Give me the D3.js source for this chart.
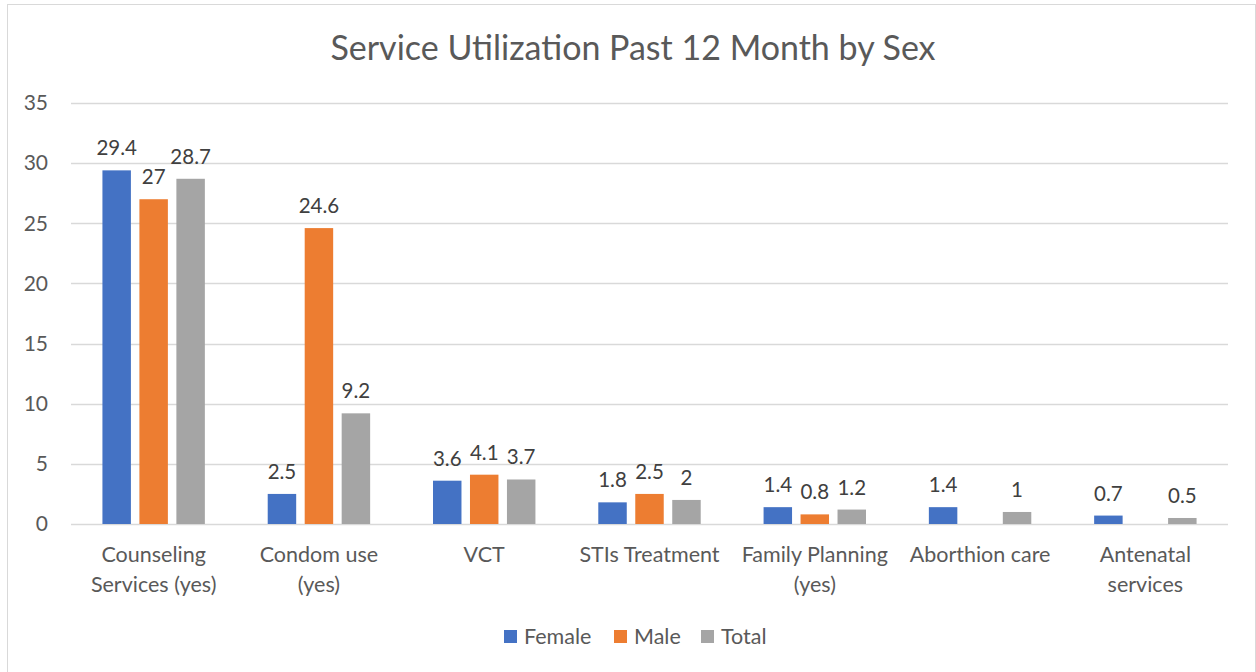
<!DOCTYPE html>
<html>
<head>
<meta charset="utf-8">
<script src="https://cdn.jsdelivr.net/npm/d3@7"></script>
<style>
  body { margin: 0; background: #fff; }
  svg { display: block; font-family: Lato, "Open Sans", sans-serif; }
</style>
</head>
<body>
<svg id="chart" width="1256" height="672"></svg>
<script>
const categories = [
  ['Counseling', 'Services (yes)'],
  ['Condom use', '(yes)'],
  ['VCT'],
  ['STIs Treatment'],
  ['Family Planning', '(yes)'],
  ['Aborthion care'],
  ['Antenatal', 'services']
];
const seriesNames = ['Female', 'Male', 'Total'];
const female = [29.4, 2.5, 3.6, 1.8, 1.4, 1.4, 0.7];
const male = [27, 24.6, 4.1, 2.5, 0.8, null, null];
const total = [28.7, 9.2, 3.7, 2, 1.2, 1, 0.5];
const yTicks = [0, 5, 10, 15, 20, 25, 30, 35];
const colors = ['#4472c4', '#ed7d31', '#a5a5a5'];

const series = [female, male, total];
const svg = d3.select('#chart');
const margin = { left: 71, right: 28, top: 103, bottom: 148 };
const W = 1256, H = 672;

// outer frame
svg.append('rect')
  .attr('x', 7.5).attr('y', 4.5)
  .attr('width', W - 8).attr('height', H)
  .attr('fill', '#fff').attr('stroke', '#d9d9d9');

svg.append('text')
  .attr('x', 633).attr('y', 60)
  .attr('text-anchor', 'middle')
  .attr('font-size', 34)
  .attr('fill', '#595959')
  .text('Service Utilization Past 12 Month by Sex');

const x = d3.scaleBand()
  .domain(d3.range(categories.length))
  .range([margin.left, W - margin.right])
  .paddingInner(0).paddingOuter(0);

const y = d3.scaleLinear().domain([0, 35]).range([H - margin.bottom, margin.top]);

const xInner = d3.scaleBand()
  .domain(d3.range(seriesNames.length))
  .range([0, x.bandwidth()])
  .paddingInner(0.23).paddingOuter(0.85);

// gridlines
svg.append('g').selectAll('line')
  .data(yTicks)
  .join('line')
  .attr('x1', margin.left).attr('x2', W - margin.right)
  .attr('y1', d => Math.round(y(d)) + 0.5).attr('y2', d => Math.round(y(d)) + 0.5)
  .attr('stroke', '#d9d9d9').attr('stroke-width', 1.3);

const yAxis = svg.append('g')
  .attr('transform', `translate(${margin.left},0)`)
  .call(d3.axisLeft(y).tickValues(yTicks).tickSize(0).tickPadding(23));
yAxis.select('.domain').remove();
yAxis.selectAll('text')
  .attr('font-size', 21).attr('fill', '#595959')
  .attr('font-family', 'Lato, "Open Sans", sans-serif');

// bars
const groups = svg.append('g').selectAll('g')
  .data(categories.map((c, i) => i))
  .join('g')
  .attr('transform', i => `translate(${x(i)},0)`);

const cells = groups.selectAll('g')
  .data(i => series.map((s, k) => ({ k, v: s[i] })).filter(d => d.v != null))
  .join('g');

cells.append('rect')
  .attr('x', d => xInner(d.k))
  .attr('width', xInner.bandwidth())
  .attr('y', d => y(d.v))
  .attr('height', d => y(0) - y(d.v))
  .attr('fill', d => colors[d.k]);

cells.append('text')
  .attr('x', d => xInner(d.k) + xInner.bandwidth() / 2)
  .attr('y', d => y(d.v) - 15)
  .attr('text-anchor', 'middle')
  .attr('font-size', 20.5)
  .attr('fill', '#404040')
  .text(d => d.v);

// category labels
const catLabels = svg.append('g').selectAll('text')
  .data(categories)
  .join('text')
  .attr('x', (d, i) => x(i) + x.bandwidth() / 2)
  .attr('y', 562)
  .attr('text-anchor', 'middle')
  .attr('font-size', 21.5)
  .attr('fill', '#595959');
catLabels.selectAll('tspan')
  .data(d => d)
  .join('tspan')
  .attr('x', function () { return this.parentNode.getAttribute('x'); })
  .attr('dy', (d, j) => j === 0 ? '0px' : '30px')
  .text(d => d);

// legend
const legendX = [504, 614, 701];
const legend = svg.append('g').selectAll('g')
  .data(seriesNames)
  .join('g')
  .attr('transform', (d, i) => `translate(${legendX[i]},630)`);
legend.append('rect')
  .attr('width', 13).attr('height', 13)
  .attr('fill', (d, i) => colors[i]);
legend.append('text')
  .attr('x', 20).attr('y', 14)
  .attr('font-size', 21.5).attr('fill', '#595959')
  .text(d => d);
</script>
</body>
</html>
